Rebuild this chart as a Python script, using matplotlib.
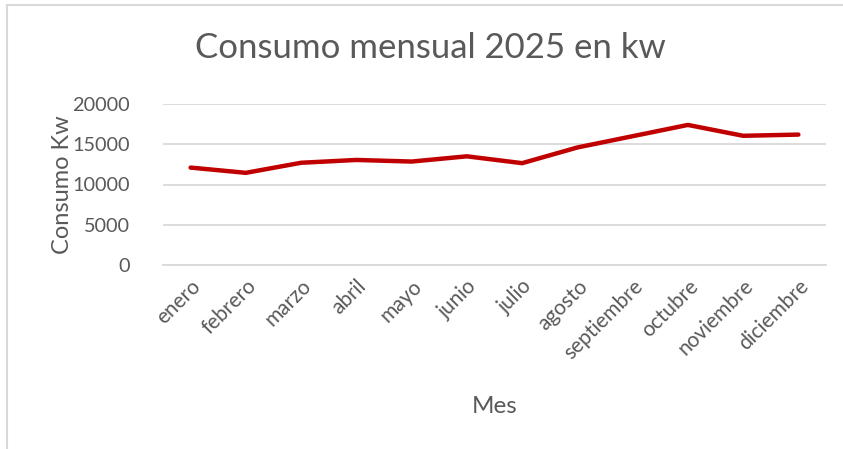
import matplotlib.pyplot as plt
from matplotlib.lines import Line2D

# Datos de consumo mensual (kW)
meses = ['enero', 'febrero', 'marzo', 'abril', 'mayo', 'junio', 'julio',
         'agosto', 'septiembre', 'octubre', 'noviembre', 'diciembre']
consumo = [12100, 11450, 12700, 13050, 12850, 13500, 12650,
           14600, 16000, 17400, 16050, 16200]
y_ticks = [0, 5000, 10000, 15000, 20000]

txt = '#595959'
plt.rcParams['font.family'] = ['Lato', 'DejaVu Sans']

fig = plt.figure(figsize=(8.43, 4.49), dpi=100)
ax = fig.add_axes([163/843, 1 - 265/449, 663/843, 161/449])

ax.plot(range(len(meses)), consumo, color='#C00000', linewidth=3.2,
        solid_capstyle='round', solid_joinstyle='round', zorder=3)

ax.set_xlim(-0.5, len(meses) - 0.5)
ax.set_ylim(0, 20000)
ax.set_yticks(y_ticks)
ax.set_yticklabels([str(v) for v in y_ticks])
ax.set_xticks(range(len(meses)))
ax.set_xticklabels(meses, rotation=45, ha='right', rotation_mode='anchor')

ax.grid(axis='y', color='#D9D9D9', linewidth=1.3)
ax.set_axisbelow(True)
for s in ['top', 'right', 'left']:
    ax.spines[s].set_visible(False)
ax.spines['bottom'].set_color('#D9D9D9')
ax.spines['bottom'].set_linewidth(1.3)
ax.tick_params(axis='both', length=0, colors=txt)
ax.tick_params(axis='y', pad=24, labelsize=14.3)
ax.tick_params(axis='x', pad=8, labelsize=15)

fig.text(430/843, 1 - 48/449, 'Consumo mensual 2025 en kw', fontsize=25,
         color=txt, ha='center', va='center')
ax.set_ylabel('Consumo Kw', fontsize=17, color=txt, labelpad=-1)
ax.set_xlabel('Mes', fontsize=17.5, color=txt, labelpad=24)

# borde del área del gráfico
fig.add_artist(Line2D([7/843, 7/843], [0, 1 - 5/449], color='#D9D9D9', linewidth=1.5))
fig.add_artist(Line2D([7/843, 1], [1 - 5/449, 1 - 5/449], color='#D9D9D9', linewidth=1.5))

fig.savefig('out.png', dpi=100)
